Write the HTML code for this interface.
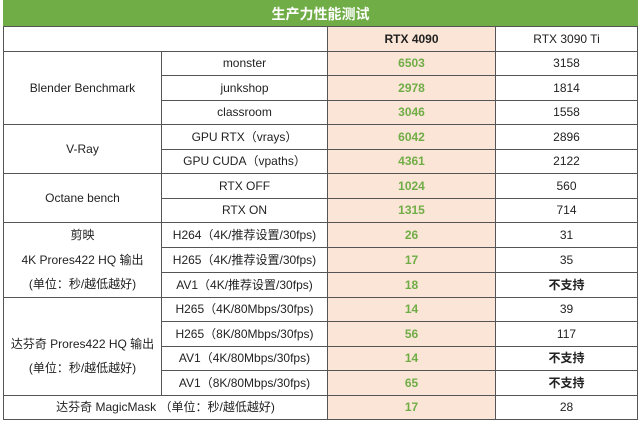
<!DOCTYPE html>
<html><head><meta charset="utf-8"><style>
body{margin:0;width:640px;height:422px;background:#fff;font-family:"Liberation Sans","Noto Sans CJK SC",sans-serif;font-size:12px;color:#222;overflow:hidden}
table{position:absolute;left:3px;top:0;width:634px;border-collapse:collapse;table-layout:fixed}
td{border:1px solid #555;text-align:center;padding:0;height:23.5px;line-height:14px;white-space:nowrap}
.t{background:#70ad47;color:#fff;font-weight:bold;font-size:14px;height:25px;border-color:#70ad47 #70ad47 #555}
.o{background:#fbe5d6}
.g{color:#70ad47;font-weight:bold}
.b{font-weight:bold}
</style></head><body>
<table>
<colgroup><col style="width:158px"><col style="width:166px"><col style="width:168px"><col style="width:142px"></colgroup>
<tr><td class="t" colspan="4">生产力性能测试</td></tr>
<tr><td colspan="2"></td><td class="o b">RTX 4090</td><td>RTX 3090 Ti</td></tr>
<tr><td rowspan="3">Blender Benchmark</td><td>monster</td><td class="o g">6503</td><td>3158</td></tr>
<tr><td>junkshop</td><td class="o g">2978</td><td>1814</td></tr>
<tr><td>classroom</td><td class="o g">3046</td><td>1558</td></tr>
<tr><td rowspan="2">V-Ray</td><td>GPU RTX（vrays）</td><td class="o g">6042</td><td>2896</td></tr>
<tr><td>GPU CUDA（vpaths）</td><td class="o g">4361</td><td>2122</td></tr>
<tr><td rowspan="2">Octane bench</td><td>RTX OFF</td><td class="o g">1024</td><td>560</td></tr>
<tr><td>RTX ON</td><td class="o g">1315</td><td>714</td></tr>
<tr><td rowspan="3" style="line-height:24.5px">剪映<br>4K Prores422 HQ 输出<br>(单位：秒/越低越好)</td><td>H264（4K/推荐设置/30fps)</td><td class="o g">26</td><td>31</td></tr>
<tr><td>H265（4K/推荐设置/30fps)</td><td class="o g">17</td><td>35</td></tr>
<tr><td>AV1（4K/推荐设置/30fps)</td><td class="o g">18</td><td class="b">不支持</td></tr>
<tr><td rowspan="4" style="line-height:24.5px;padding-top:20px">达芬奇 Prores422 HQ 输出<br>(单位：秒/越低越好)</td><td>H265（4K/80Mbps/30fps)</td><td class="o g">14</td><td>39</td></tr>
<tr><td>H265（8K/80Mbps/30fps)</td><td class="o g">56</td><td>117</td></tr>
<tr><td>AV1（4K/80Mbps/30fps)</td><td class="o g">14</td><td class="b">不支持</td></tr>
<tr><td>AV1（8K/80Mbps/30fps)</td><td class="o g">65</td><td class="b">不支持</td></tr>
<tr><td colspan="2">达芬奇 MagicMask （单位：秒/越低越好)</td><td class="o g">17</td><td>28</td></tr>
</table>
</body></html>
